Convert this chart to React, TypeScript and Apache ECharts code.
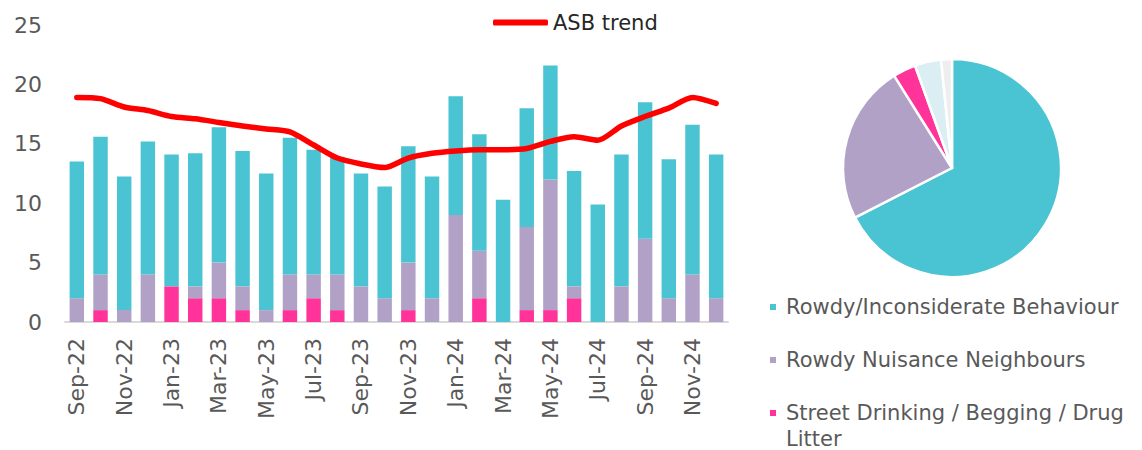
import React, { useEffect, useRef } from "react";
import * as echarts from "echarts";

const categories = [
  "Sep-22", "Oct-22", "Nov-22", "Dec-22",
  "Jan-23", "Feb-23", "Mar-23", "Apr-23", "May-23", "Jun-23",
  "Jul-23", "Aug-23", "Sep-23", "Oct-23", "Nov-23", "Dec-23",
  "Jan-24", "Feb-24", "Mar-24", "Apr-24", "May-24", "Jun-24",
  "Jul-24", "Aug-24", "Sep-24", "Oct-24", "Nov-24", "Dec-24",
];

const seriesNames = [
  "Rowdy/Inconsiderate Behaviour",
  "Rowdy Nuisance Neighbours",
  "Street Drinking / Begging / Drug Litter",
];

const rowdyValues = [
  11.5, 11.6, 11.25, 11.2, 11.1, 11.2, 11.4, 11.4, 11.5, 11.5,
  10.5, 9.9, 9.5, 9.4, 9.8, 10.25, 10, 9.8, 10.3, 10,
  9.6, 9.7, 9.9, 11.1, 11.5, 11.7, 12.6, 12.1,
];
const neighbourValues = [
  2, 3, 1, 4, 0, 1, 3, 2, 1, 3,
  2, 3, 3, 2, 4, 2, 9, 4, 0, 7,
  11, 1, 0, 3, 7, 2, 4, 2,
];
const streetValues = [
  0, 1, 0, 0, 3, 2, 2, 1, 0, 1,
  2, 1, 0, 0, 1, 0, 0, 2, 0, 1,
  1, 2, 0, 0, 0, 0, 0, 0,
];
const trendValues = [
  18.9, 18.8, 18.1, 17.8, 17.3, 17.1, 16.8, 16.5, 16.25, 16.0,
  14.9, 13.8, 13.3, 13.0, 13.8, 14.2, 14.4, 14.5, 14.5, 14.6,
  15.2, 15.6, 15.3, 16.5, 17.3, 18.0, 18.9, 18.4,
];

const pieNames = [
  "Rowdy/Inconsiderate Behaviour",
  "Rowdy Nuisance Neighbours",
  "Street Drinking / Begging / Drug Litter",
  "Other",
  "Other (minor)",
];
const pieValues = [67.4, 23.6, 3.4, 3.9, 1.6];

const yTicks = [0, 5, 10, 15, 20, 25];

const TEAL = "#4AC4D2";
const LAV = "#B1A1C7";
const PINK = "#FF3399";
const pieColors = [TEAL, LAV, PINK, "#DBEEF4", "#EEEEEE"];
const FONT = "DejaVu Sans";

export default function App() {
  const ref = useRef<HTMLDivElement>(null);
  useEffect(() => {
    document.body.style.margin = "0";
    const chart = echarts.init(ref.current!, null, { renderer: "svg" });
    const legendColors = [TEAL, LAV, PINK];
    const legendY = [307, 360, 413];
    const legendGraphics: any[] = [];
    seriesNames.forEach((name, i) => {
      legendGraphics.push({
        type: "rect",
        shape: { x: 770, y: legendY[i] - 3, width: 6, height: 6 },
        style: { fill: legendColors[i] },
      });
      const label = i === 2 ? "Street Drinking / Begging / Drug\nLitter" : name;
      legendGraphics.push({
        type: "text",
        x: 786,
        y: legendY[i] - 13,
        style: {
          text: label,
          fill: "#595959",
          font: `21px "${FONT}"`,
          lineHeight: 26,
          verticalAlign: "top",
          textVerticalAlign: "top",
        },
      });
    });

    chart.setOption({
      animation: false,
      textStyle: { fontFamily: FONT },
      legend: {
        data: [{ name: "ASB trend", icon: "roundRect" }],
        left: 488,
        top: 7,
        itemWidth: 55,
        itemHeight: 6,
        itemGap: 5,
        itemStyle: { color: "#FF0000" },
        textStyle: { fontSize: 21, color: "#262626", fontFamily: FONT },
      },
      grid: { left: 65, right: 414, top: 25, bottom: 128, containLabel: false },
      xAxis: {
        type: "category",
        data: categories,
        axisLine: { lineStyle: { color: "#D9D9D9", width: 2 } },
        axisTick: { show: false },
        axisLabel: {
          interval: 1,
          rotate: 90,
          fontSize: 22,
          color: "#595959",
          margin: 16,
          fontFamily: FONT,
        },
      },
      yAxis: {
        type: "value",
        min: yTicks[0],
        max: yTicks[yTicks.length - 1],
        interval: 5,
        splitLine: { show: false },
        axisLine: { show: false },
        axisTick: { show: false },
        axisLabel: { fontSize: 22, color: "#595959", margin: 23, fontFamily: FONT },
      },
      series: [
        {
          name: seriesNames[2],
          type: "bar",
          stack: "asb",
          data: streetValues,
          barWidth: "61%",
          itemStyle: { color: PINK },
        },
        {
          name: seriesNames[1],
          type: "bar",
          stack: "asb",
          data: neighbourValues,
          barWidth: "61%",
          itemStyle: { color: LAV },
        },
        {
          name: seriesNames[0],
          type: "bar",
          stack: "asb",
          data: rowdyValues,
          barWidth: "61%",
          itemStyle: { color: TEAL },
        },
        {
          name: "ASB trend",
          type: "line",
          data: trendValues,
          symbol: "none",
          smooth: 0.25,
          z: 10,
          lineStyle: { color: "#FF0000", width: 5.5, cap: "round", join: "round" },
          itemStyle: { color: "#FF0000" },
        },
        {
          name: "Breakdown",
          type: "pie",
          center: [952, 168],
          radius: [0, 109],
          startAngle: 90,
          clockwise: true,
          label: { show: false },
          labelLine: { show: false },
          emphasis: { disabled: true },
          data: pieNames.map((n, i) => ({
            name: n,
            value: pieValues[i],
            itemStyle: { color: pieColors[i], borderColor: "#FFFFFF", borderWidth: 2.5 },
          })),
        },
      ],
      graphic: legendGraphics,
    });
    return () => chart.dispose();
  }, []);
  return <div ref={ref} style={{ width: 1142, height: 450 }} />;
}
